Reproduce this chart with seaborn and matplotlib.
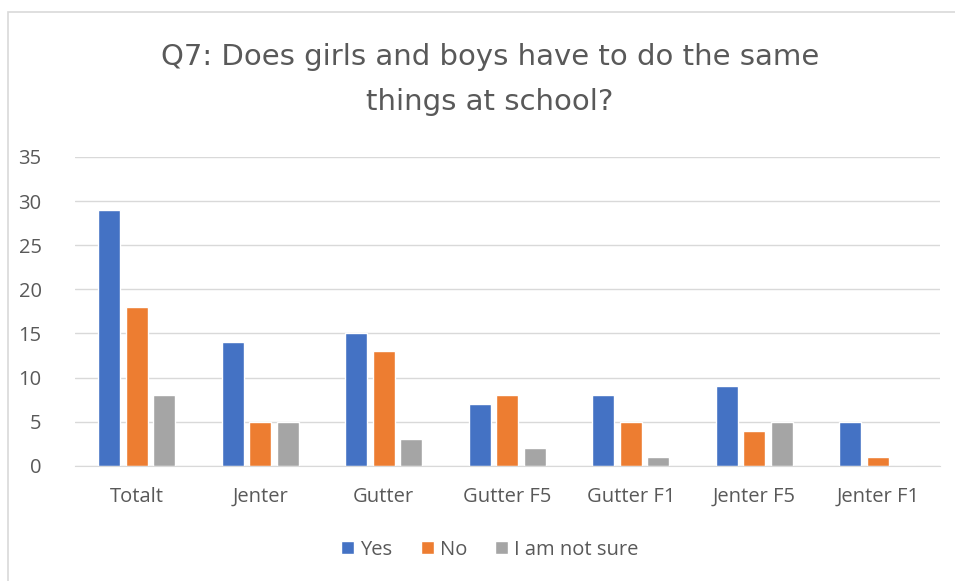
import pandas as pd
import seaborn as sns
import matplotlib.pyplot as plt
from matplotlib.patches import Rectangle

groups = ["Totalt", "Jenter", "Gutter", "Gutter F5", "Gutter F1", "Jenter F5", "Jenter F1"]
yes = [29, 14, 15, 7, 8, 9, 5]
no = [18, 5, 13, 8, 5, 4, 1]
not_sure = [8, 5, 3, 2, 1, 5, 0]
answers = ["Yes", "No", "I am not sure"]
colors = ["#4472C4", "#ED7D31", "#A5A5A5"]

df = pd.DataFrame({"group": groups, "Yes": yes, "No": no, "I am not sure": not_sure})
df = df.melt(id_vars="group", var_name="answer", value_name="count")

sns.set_style("white")
plt.rcParams["font.family"] = ["Open Sans", "DejaVu Sans"]
text_col = "#595959"

fig = plt.figure(figsize=(9.55, 5.81), dpi=100)
ax = fig.add_axes([0.0785, 0.198, 0.9055, 0.532])

sns.barplot(data=df, x="group", y="count", hue="answer", hue_order=answers,
            palette=colors, width=0.667, gap=0.2, ax=ax, saturation=1)

ax.set_ylim(0, 35)
ax.set_yticks(range(0, 36, 5))
ax.set_xlim(-0.5, len(groups) - 0.5)
ax.yaxis.grid(True, color="#D9D9D9", linewidth=1)
ax.set_axisbelow(True)
for s in ["top", "right", "left"]:
    ax.spines[s].set_visible(False)
ax.spines["bottom"].set_color("#D9D9D9")
ax.tick_params(axis="both", length=0, labelsize=14.5, colors=text_col)
ax.tick_params(axis="x", pad=15)
ax.tick_params(axis="y", pad=24)
ax.set_xlabel("")
ax.set_ylabel("")

ax.legend(loc="center", bbox_to_anchor=(0.513, 0.054), bbox_transform=fig.transFigure,
          ncol=3, frameon=False, fontsize=14.5, handlelength=0.65, handleheight=0.65,
          handletextpad=0.3, columnspacing=1.4, labelcolor=text_col)

fig.text(0.513, 0.863, "Q7: Does girls and boys have to do the same\nthings at school?",
         ha="center", va="center", fontsize=21, color=text_col, linespacing=1.75,
         family=["DejaVu Sans"])

fig.patches.append(Rectangle((0.0085, -0.05), 1.1, 1.03, transform=fig.transFigure,
                             fill=False, edgecolor="#D9D9D9", linewidth=1.2))

fig.savefig("out.png", dpi=100)
